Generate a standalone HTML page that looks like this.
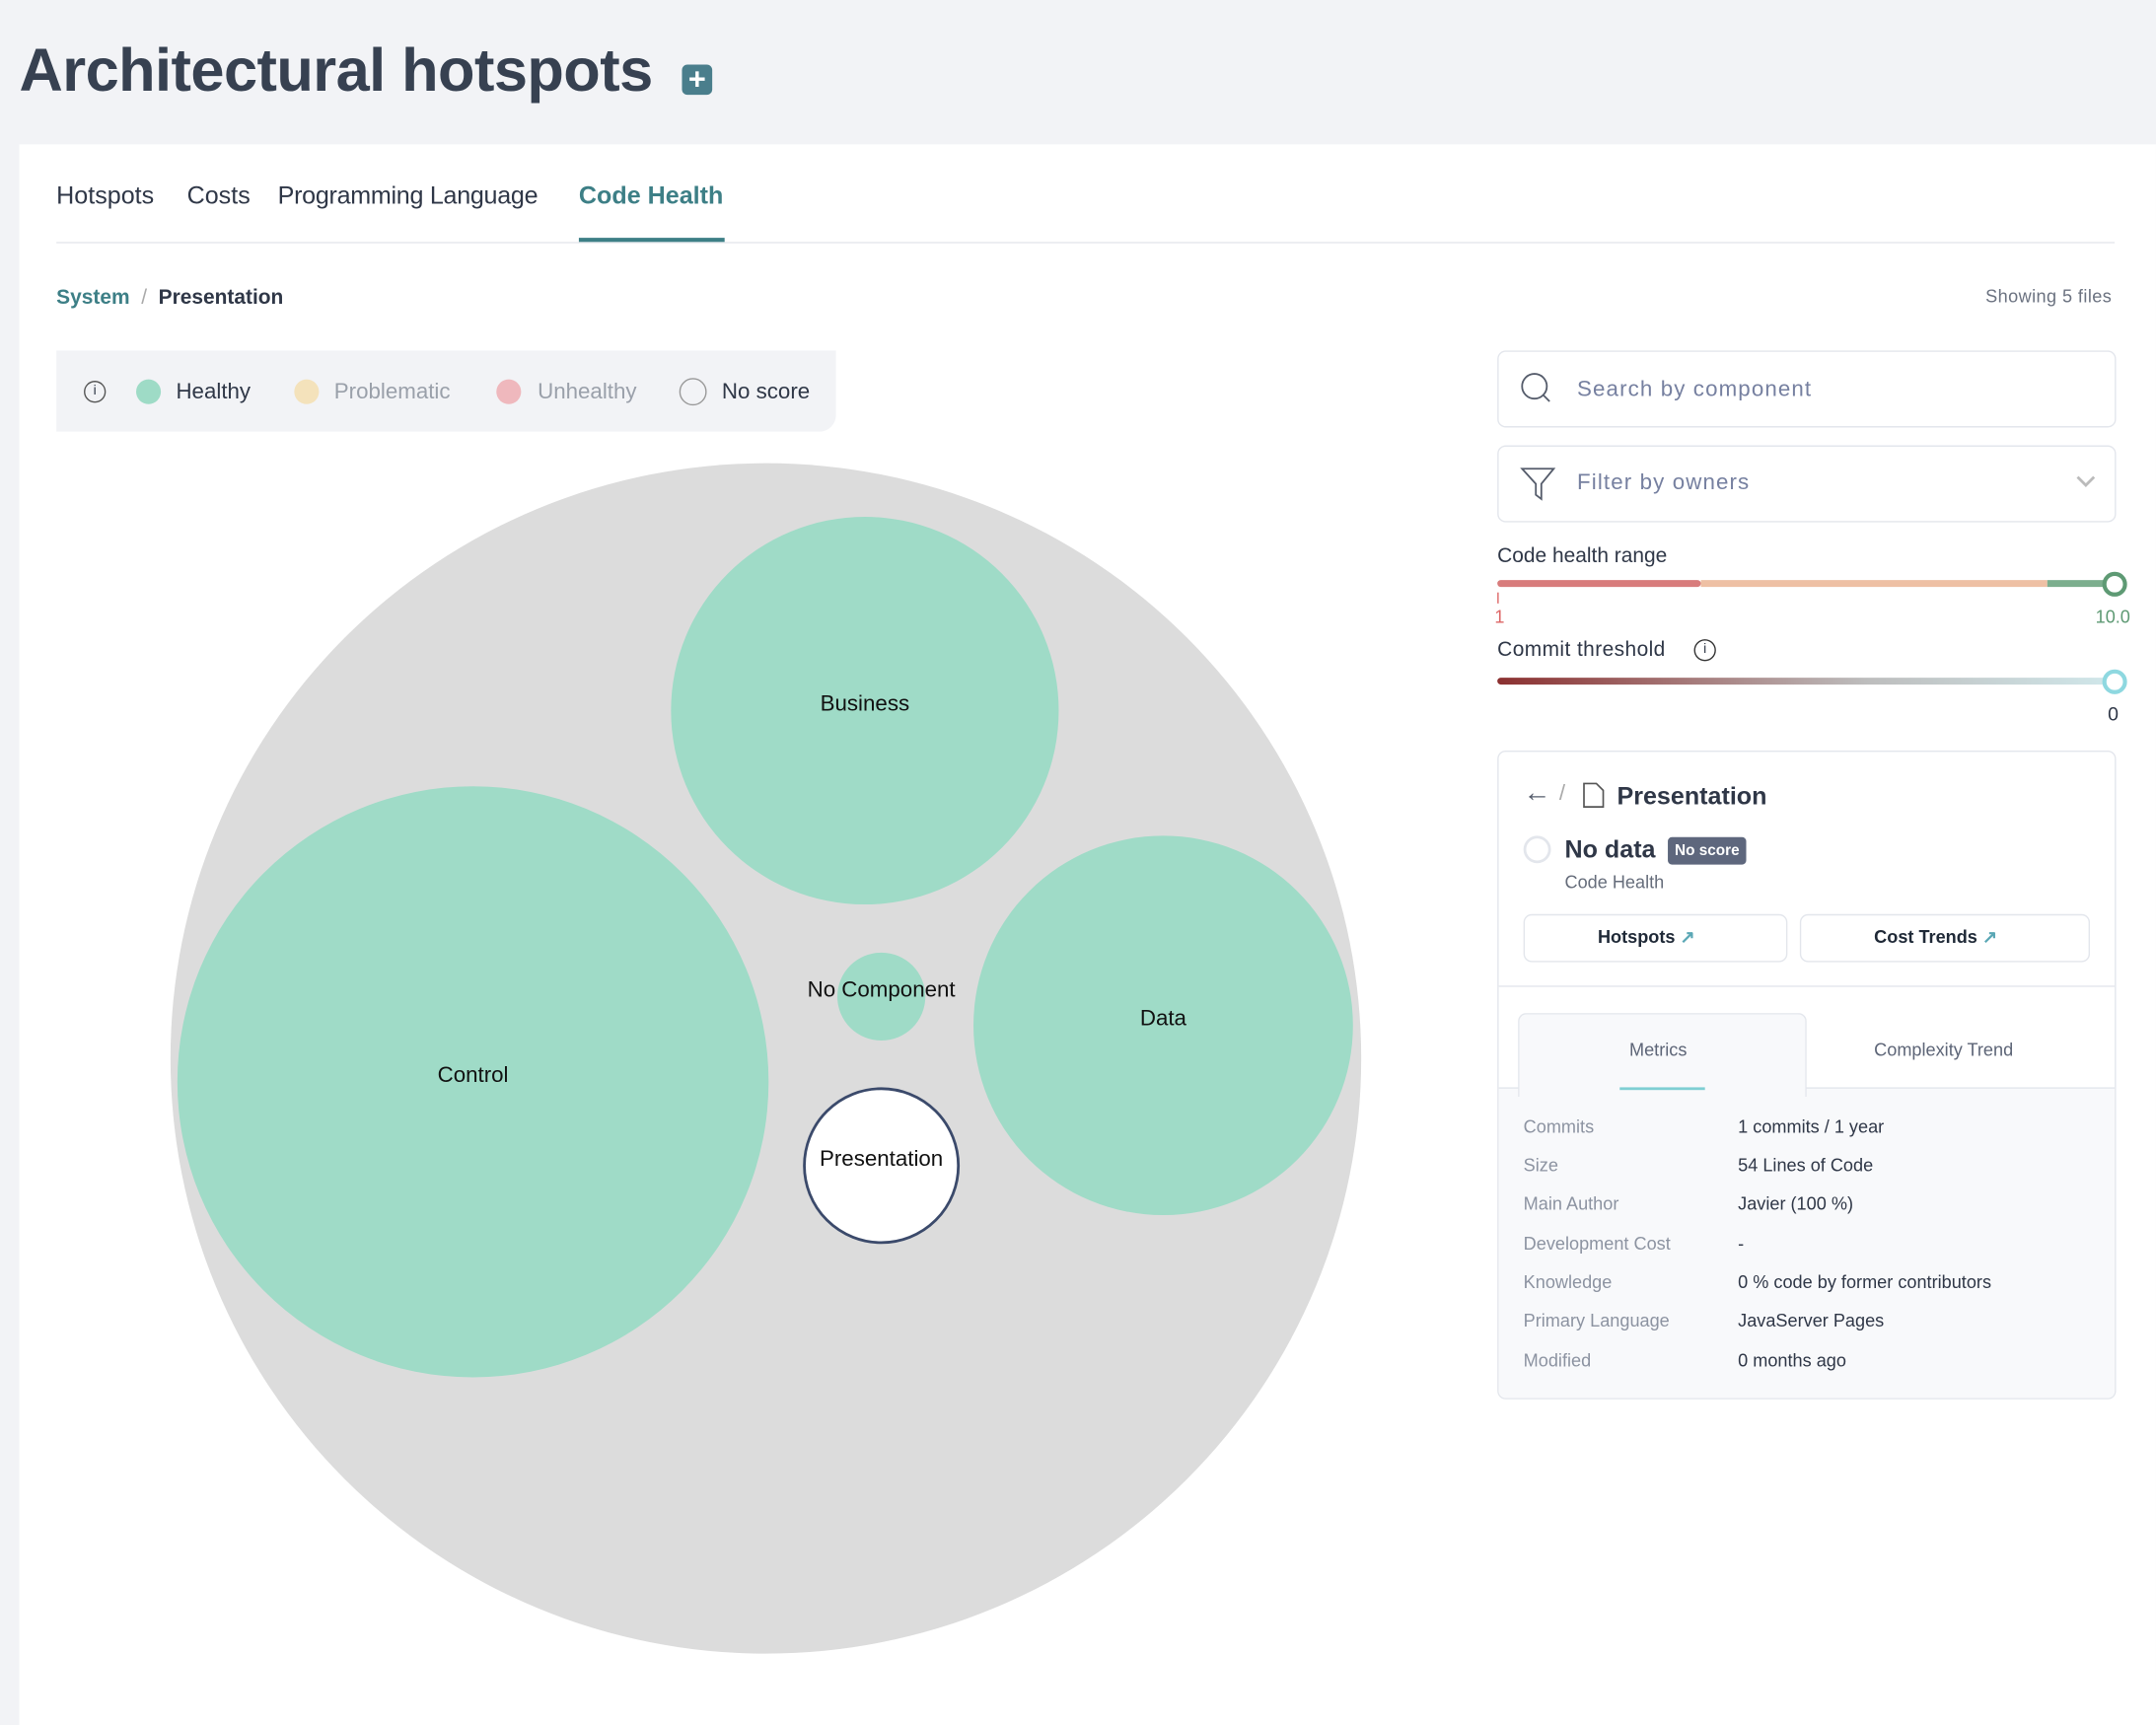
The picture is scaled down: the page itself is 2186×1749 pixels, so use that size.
<!DOCTYPE html>
<html><head><meta charset="utf-8"><style>
html,body{margin:0;padding:0;width:2186px;height:1738px;overflow:hidden;background:#f2f3f6;font-family:"Liberation Sans",sans-serif;color:#2f3747}
#w{position:absolute;left:0;top:0;width:1568px;height:1247px;transform:scale(1.3941,1.3937);transform-origin:0 0}
.a{position:absolute;white-space:nowrap}
.card{position:absolute;left:14px;top:105px;width:1554px;height:1150px;background:#fff}
.box{position:absolute;border:1px solid #e3e6ec;border-radius:6px;background:#fff}
.lbl{color:#8c93a1;font-size:13px}
.val{color:#2f3747;font-size:13px}
</style></head><body><div id="w">
<div class="a" style="left:14px;top:27px;font-size:44px;font-weight:bold;color:#374151;letter-spacing:-0.4px">Architectural hotspots</div>
<div class="a" style="left:496px;top:47px;width:22px;height:22px;background:#4a7e8c;border-radius:4px;color:#fff;font-size:22px;font-weight:bold;line-height:22px;text-align:center">+</div>
<div class="card"></div>
<div class="a" style="left:41px;top:132px;font-size:18px;color:#2f3747">Hotspots</div>
<div class="a" style="left:136px;top:132px;font-size:18px;color:#2f3747">Costs</div>
<div class="a" style="left:202px;top:132px;font-size:18px;color:#2f3747;letter-spacing:-0.2px">Programming Language</div>
<div class="a" style="left:421px;top:132px;font-size:18px;color:#3d7f86;font-weight:bold">Code Health</div>
<div class="a" style="left:41px;top:176px;width:1497px;height:1px;background:#e5e7eb"></div>
<div class="a" style="left:421px;top:173px;width:106px;height:3px;background:#3d7f86"></div>
<div class="a" style="left:41px;top:208px;font-size:15px;color:#3d7f86;font-weight:bold">System <span style="color:#aaa;font-weight:normal">&nbsp;/&nbsp;</span> <span style="color:#2f3747">Presentation</span></div>
<div class="a" style="left:1444px;top:208px;font-size:13px;color:#6b7280;letter-spacing:0.3px">Showing 5 files</div>
<div class="a" style="left:41px;top:255px;width:567px;height:59px;background:#f2f3f6;border-radius:0 0 12px 0"></div>
<div class="a" style="left:61px;top:277px;width:14px;height:14px;border:1px solid #555;border-radius:50%;font-size:10px;text-align:center;line-height:14px">i</div>
<div class="a" style="left:99px;top:276px;width:18px;height:18px;border-radius:50%;background:#9edbc6"></div>
<div class="a" style="left:128px;top:277px;font-size:16px;color:#2f3747">Healthy</div>
<div class="a" style="left:214px;top:276px;width:18px;height:18px;border-radius:50%;background:#f4e2bb"></div>
<div class="a" style="left:243px;top:277px;font-size:16px;color:#9aa0aa">Problematic</div>
<div class="a" style="left:361px;top:276px;width:18px;height:18px;border-radius:50%;background:#efb8bd"></div>
<div class="a" style="left:391px;top:277px;font-size:16px;color:#9aa0aa">Unhealthy</div>
<div class="a" style="left:494px;top:275px;width:18px;height:18px;border-radius:50%;border:1px solid #999"></div>
<div class="a" style="left:525px;top:277px;font-size:16px;color:#2f3747">No score</div>
<svg class="a" style="left:0;top:0" width="1050" height="1247">
<circle cx="557" cy="770" r="433" fill="#dcdcdc"/>
<circle cx="629" cy="517" r="141" fill="#9fdbc7"/>
<circle cx="344" cy="787" r="215" fill="#9fdbc7"/>
<circle cx="846" cy="746" r="138" fill="#9fdbc7"/>
<circle cx="641" cy="725" r="32" fill="#9fdbc7"/>
<circle cx="641" cy="848" r="56" fill="#fff" stroke="#3b4a6b" stroke-width="2"/>
<g font-family="Liberation Sans" font-size="16" fill="#111" text-anchor="middle">
<text x="629" y="517">Business</text><text x="344" y="787">Control</text><text x="846" y="746">Data</text>
<text x="641" y="725">No Component</text><text x="641" y="848">Presentation</text></g>
</svg>
<div class="box" style="left:1089px;top:255px;width:448px;height:54px"></div>
<svg class="a" style="left:1105px;top:270px" width="26" height="26"><circle cx="11" cy="11" r="9" fill="none" stroke="#555c6b" stroke-width="1.3"/><line x1="17" y1="17" x2="22" y2="22" stroke="#555c6b" stroke-width="1.3"/></svg>
<div class="a" style="left:1147px;top:275px;font-size:16px;color:#7680a0;letter-spacing:0.8px">Search by component</div>
<div class="box" style="left:1089px;top:324px;width:448px;height:54px"></div>
<svg class="a" style="left:1105px;top:339px" width="28" height="26"><path d="M2 2H25L16 13V24L12 21V13Z" fill="none" stroke="#555c6b" stroke-width="1.3"/></svg>
<div class="a" style="left:1147px;top:343px;font-size:16px;color:#7680a0;letter-spacing:0.8px">Filter by owners</div>
<svg class="a" style="left:1509px;top:345px" width="16" height="12"><path d="M2 2L8 8L14 2" fill="none" stroke="#bbb" stroke-width="2"/></svg>
<div class="a" style="left:1089px;top:396px;font-size:15px">Code health range</div>
<div class="a" style="left:1089px;top:422px;width:148px;height:5px;background:#d87c7c;border-radius:3px"></div>
<div class="a" style="left:1237px;top:422px;width:252px;height:5px;background:#eec0a4"></div>
<div class="a" style="left:1489px;top:422px;width:45px;height:5px;background:#7cae8e"></div>
<div class="a" style="left:1529px;top:416px;width:12px;height:12px;border:3px solid #5e9a74;border-radius:50%;background:#fff"></div>
<div class="a" style="left:1089px;top:431px;width:1px;height:8px;background:#d66"></div>
<div class="a" style="left:1087px;top:441px;font-size:13px;color:#d66">1</div>
<div class="a" style="left:1524px;top:441px;font-size:13px;color:#5e9a74">10.0</div>
<div class="a" style="left:1089px;top:464px;font-size:15px;letter-spacing:0.3px">Commit threshold</div>
<div class="a" style="left:1232px;top:465px;width:14px;height:14px;border:1px solid #333;border-radius:50%;font-size:10px;text-align:center;line-height:14px">i</div>
<div class="a" style="left:1089px;top:493px;width:446px;height:5px;border-radius:3px;background:linear-gradient(90deg,#8b3030,#bdbdbd 60%,#d0e7ea)"></div>
<div class="a" style="left:1529px;top:487px;width:12px;height:12px;border:3px solid #8ed8e0;border-radius:50%;background:#fff"></div>
<div class="a" style="left:1533px;top:511px;font-size:14px">0</div>
<div class="box" style="left:1089px;top:546px;width:448px;height:470px;overflow:hidden">
<div class="a" style="left:0;top:244px;width:448px;height:226px;background:#f8f9fb;border-top:1px solid #e3e6ec"></div>
<div class="a" style="left:0;top:170px;width:448px;height:1px;background:#e3e6ec"></div>
<div class="a" style="left:14px;top:190px;width:208px;height:60px;background:#f8f9fb;border:1px solid #e3e6ec;border-bottom:none;border-radius:6px 6px 0 0"></div>
<div class="a" style="left:88px;top:244px;width:62px;height:2px;background:#7fcfd3"></div>
</div>
<div class="a" style="left:1108px;top:566px;font-size:20px;color:#555c6b">←</div>
<div class="a" style="left:1134px;top:569px;font-size:16px;color:#aaa">/</div>
<svg class="a" style="left:1151px;top:569px" width="16" height="19"><path d="M1 1H10L15 6V18H1Z" fill="none" stroke="#555" stroke-width="1.2"/></svg>
<div class="a" style="left:1176px;top:569px;font-size:18px;font-weight:bold;color:#2f3747">Presentation</div>
<div class="a" style="left:1108px;top:608px;width:16px;height:16px;border:2px solid #e3e6ec;border-radius:50%"></div>
<div class="a" style="left:1138px;top:608px;font-size:18px;font-weight:bold;color:#2f3747">No data</div>
<div class="a" style="left:1213px;top:609px;padding:0 5px;height:20px;line-height:20px;background:#5e677d;color:#fff;font-size:11px;font-weight:bold;border-radius:3px">No score</div>
<div class="a" style="left:1138px;top:634px;font-size:13px;color:#666d7b">Code Health</div>
<div class="box" style="left:1108px;top:665px;width:190px;height:33px"></div>
<div class="a" style="left:1162px;top:674px;font-size:13px;font-weight:bold;color:#1f2937">Hotspots <span style="color:#5aa7b5">↗</span></div>
<div class="box" style="left:1309px;top:665px;width:209px;height:33px"></div>
<div class="a" style="left:1363px;top:674px;font-size:13px;font-weight:bold;color:#1f2937">Cost Trends <span style="color:#5aa7b5">↗</span></div>
<div class="a" style="left:1185px;top:756px;font-size:13px;color:#5d6577">Metrics</div>
<div class="a" style="left:1363px;top:756px;font-size:13px;color:#5d6577">Complexity Trend</div>
<div class="a lbl" style="left:1108px;top:812px">Commits</div><div class="a val" style="left:1264px;top:812px">1 commits / 1 year</div>
<div class="a lbl" style="left:1108px;top:840px">Size</div><div class="a val" style="left:1264px;top:840px">54 Lines of Code</div>
<div class="a lbl" style="left:1108px;top:868px">Main Author</div><div class="a val" style="left:1264px;top:868px">Javier (100 %)</div>
<div class="a lbl" style="left:1108px;top:897px">Development Cost</div><div class="a val" style="left:1264px;top:897px">-</div>
<div class="a lbl" style="left:1108px;top:925px">Knowledge</div><div class="a val" style="left:1264px;top:925px">0 % code by former contributors</div>
<div class="a lbl" style="left:1108px;top:953px">Primary Language</div><div class="a val" style="left:1264px;top:953px">JavaServer Pages</div>
<div class="a lbl" style="left:1108px;top:982px">Modified</div><div class="a val" style="left:1264px;top:982px">0 months ago</div>
</div></body></html>
